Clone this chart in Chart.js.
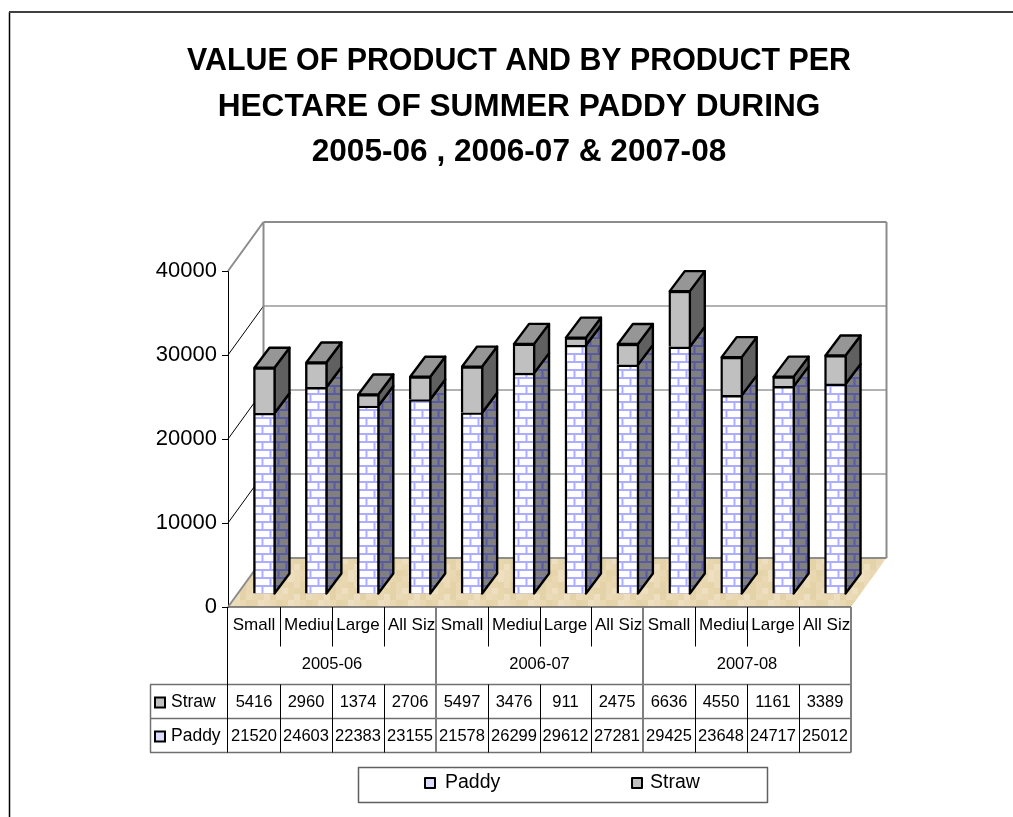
<!DOCTYPE html>
<html>
<head>
<meta charset="utf-8">
<style>
html, body { margin: 0; padding: 0; background: #fff; }
#wrap { position: relative; width: 1013px; height: 817px; }
</style>
<script src="https://cdn.jsdelivr.net/npm/chart.js@4"></script>
</head>
<body>
<div id="wrap"><canvas id="chart" width="1013" height="817"></canvas></div>
<script>
const sizes = ['Small', 'Medium', 'Large', 'All Sizes']
const years = ['2005-06', '2006-07', '2007-08']
const categories = [
    'Small', 'Medium', 'Large', 'All Sizes',
    'Small', 'Medium', 'Large', 'All Sizes',
    'Small', 'Medium', 'Large', 'All Sizes'
]
const paddy = [21520, 24603, 22383, 23155, 21578, 26299, 29612, 27281, 29425, 23648, 24717, 25012]
const straw = [5416, 2960, 1374, 2706, 5497, 3476, 911, 2475, 6636, 4550, 1161, 3389]
const yTicks = [0, 10000, 20000, 30000, 40000]

const titleLines = [
    'VALUE OF PRODUCT AND BY PRODUCT PER',
    'HECTARE OF SUMMER PADDY DURING',
    '2005-06 , 2006-07 & 2007-08'
]

// 3d look
const wallDepth = { x: 35.5, y: -49 }
const barShift = { x: 10.5, y: -13 }
const barDepth = { x: 15, y: -20 }

function brickPattern(bg, mortar) {
    let c = document.createElement('canvas')
    c.width = 16
    c.height = 16
    let g = c.getContext('2d')
    g.fillStyle = bg
    g.fillRect(0, 0, 16, 16)
    g.fillStyle = mortar
    g.fillRect(0, 6, 16, 2)
    g.fillRect(0, 14, 16, 2)
    g.fillRect(3, 0, 2, 6)
    g.fillRect(11, 8, 2, 6)
    return g.createPattern(c, 'repeat')
}

function floorPattern() {
    let shades = ['#e9d8b2', '#e6d4ab', '#ebdbb8', '#e4d2a8', '#e8d6ae', '#eddfbf']
    let order = [0, 3, 1, 5, 2, 4, 1, 0, 5, 2, 3, 0, 4, 1, 2, 3, 0, 5, 4, 1, 3, 2, 0, 4, 5]
    let c = document.createElement('canvas')
    c.width = 30
    c.height = 30
    let g = c.getContext('2d')
    order.forEach((s, i) => {
        g.fillStyle = shades[s]
        g.fillRect((i % 5) * 6, Math.floor(i / 5) * 6, 6, 6)
    })
    return g.createPattern(c, 'repeat')
}

const paddyFront = brickPattern('#ffffff', '#adadff')
const paddySide = brickPattern('#808080', '#5a5aa0')

function poly(ctx, pts, fill, stroke, width) {
    ctx.beginPath()
    pts.forEach((p, i) => i ? ctx.lineTo(p[0], p[1]) : ctx.moveTo(p[0], p[1]))
    ctx.closePath()
    if(fill) {
        ctx.fillStyle = fill
        ctx.fill()
    }
    if(stroke) {
        ctx.strokeStyle = stroke
        ctx.lineWidth = width
        ctx.lineJoin = 'round'
        ctx.stroke()
    }
}

function line(ctx, x1, y1, x2, y2, color, width) {
    ctx.beginPath()
    ctx.moveTo(x1, y1)
    ctx.lineTo(x2, y2)
    ctx.strokeStyle = color
    ctx.lineWidth = width
    ctx.stroke()
}

const walls = {
    id: 'walls',
    // tick labels stick out left of the axis box, widen it so they are not clipped
    afterLayout(chart) {
        chart.scales.y.left = 140
    },
    beforeDatasetsDraw(chart) {
        let ctx = chart.ctx
        let a = chart.chartArea
        let y = chart.scales.y
        let dx = wallDepth.x
        let dy = wallDepth.y
        ctx.save()
        poly(ctx, [[a.left, a.bottom], [a.left + dx, a.bottom + dy], [a.right + dx, a.bottom + dy], [a.right, a.bottom]], floorPattern(), null)
        yTicks.forEach(t => {
            let py = y.getPixelForValue(t)
            let top = t === yTicks[yTicks.length - 1]
            let zero = t === 0
            line(ctx, a.left, py, a.left + dx, py + dy, (top || zero) ? '#8c8c8c' : '#000000', (top || zero) ? 2 : 1)
            line(ctx, a.left + dx, py + dy, a.right + dx, py + dy, (top || zero) ? '#8c8c8c' : '#666666', (top || zero) ? 2 : 1.2)
        })
        line(ctx, a.left + dx, y.getPixelForValue(0) + dy, a.left + dx, y.getPixelForValue(40000) + dy, '#8c8c8c', 2)
        line(ctx, a.right + dx, y.getPixelForValue(0) + dy, a.right + dx, y.getPixelForValue(40000) + dy, '#8c8c8c', 2)
        line(ctx, a.left, a.bottom, a.right, a.bottom, '#606060', 1.5)
        ctx.restore()

        // side and top faces, then the library draws the fronts on top
        ctx.save()
        ctx.translate(barShift.x, barShift.y)
        let bx = barDepth.x
        let by = barDepth.y
        chart.getDatasetMeta(0).data.forEach((bar, i) => {
            let top = chart.getDatasetMeta(1).data[i]
            let r = bar.x + bar.width / 2 - 1
            let l = bar.x - bar.width / 2 + 1
            poly(ctx, [[r, bar.base], [r + bx, bar.base + by], [r + bx, bar.y + by], [r, bar.y]], paddySide, '#000000', 2.4)
            poly(ctx, [[r, bar.y], [r + bx, bar.y + by], [r + bx, top.y + by], [r, top.y]], '#606060', '#000000', 2.4)
            poly(ctx, [[l, top.y], [l + bx, top.y + by], [r + bx, top.y + by], [r, top.y]], '#969696', '#000000', 2.4)
        })
        ctx.restore()

        ctx.save()
        ctx.translate(barShift.x, barShift.y)
    },
    afterDatasetsDraw(chart) {
        chart.ctx.restore()
    }
}

const dataTable = {
    id: 'dataTable',
    afterDraw(chart) {
        let ctx = chart.ctx
        let a = chart.chartArea
        let x = chart.scales.x
        let step = x.getPixelForValue(1) - x.getPixelForValue(0)
        let edge = i => Math.round(a.left + i * step)
        let rowSep = 646.5
        let rows = [684.5, 718.5, 752.5]
        let headLeft = 150
        ctx.save()

        // frame of the chart object
        line(ctx, 9.5, 817, 9.5, 12, '#000000', 1.5)
        line(ctx, 9, 12, 1013, 12, '#404040', 2)

        // grid of the table
        rows.forEach(r => line(ctx, headLeft, r, a.right, r, '#707070', 1.5))
        line(ctx, headLeft + 0.5, rows[0], headLeft + 0.5, rows[2], '#707070', 1.5)
        for(let i = 0; i <= categories.length; i++) {
            let px = edge(i) + 0.5
            if(i === 0) {
                line(ctx, px - 1, a.bottom, px - 1, rows[2], '#000000', 1)
            } else if(i % sizes.length === 0) {
                line(ctx, px - 0.5, a.bottom, px - 0.5, rows[2], '#808080', 2)
            } else {
                line(ctx, px, a.bottom, px, rowSep, '#000000', 1)
                line(ctx, px, rows[0], px, rows[2], '#000000', 1)
            }
        }

        ctx.font = '17px "Liberation Sans", Arial, sans-serif'
        ctx.fillStyle = '#000000'
        ctx.textBaseline = 'middle'

        // category cells, long names get cut off by the cell
        categories.forEach((name, i) => {
            let l = edge(i)
            let r = edge(i + 1)
            ctx.save()
            ctx.beginPath()
            ctx.rect(l, a.bottom, r - l, 40)
            ctx.clip()
            let w = ctx.measureText(name).width
            ctx.textAlign = 'left'
            ctx.fillText(name, w > r - l - 6 ? l + 4 : (l + r - w) / 2, 625)
            ctx.restore()
        })

        ctx.textAlign = 'center'
        ctx.font = '16.5px "Liberation Sans", Arial, sans-serif'
        years.forEach((name, i) => {
            ctx.fillText(name, (edge(i * sizes.length) + edge((i + 1) * sizes.length)) / 2, 664)
        })

        // values and row heads
        let rowValues = [straw, paddy]
        rowValues.forEach((vals, r) => {
            let cy = (rows[r] + rows[r + 1]) / 2 + 1
            vals.forEach((v, i) => {
                ctx.fillText(String(v), (edge(i) + edge(i + 1)) / 2, cy)
            })
        })
        ctx.textAlign = 'left'
        ctx.font = '17.5px "Liberation Sans", Arial, sans-serif'
        let heads = [chart.data.datasets[1], chart.data.datasets[0]]
        heads.forEach((ds, r) => {
            let cy = (rows[r] + rows[r + 1]) / 2 + 1
            drawKey(ctx, 155, cy - 5, ds)
            ctx.fillStyle = '#000000'
            ctx.fillText(ds.label, 171, cy)
        })

        // legend
        poly(ctx, [[358.5, 767.5], [767.5, 767.5], [767.5, 802.5], [358.5, 802.5]], null, '#606060', 1.5)
        ctx.font = '19.5px "Liberation Sans", Arial, sans-serif'
        let legendAt = [[425, 445], [632, 650]]
        chart.data.datasets.forEach((ds, i) => {
            drawKey(ctx, legendAt[i][0], 778, ds)
            ctx.fillStyle = '#000000'
            ctx.fillText(ds.label, legendAt[i][1], 783)
        })
        ctx.restore()
    }
}

function drawKey(ctx, x, y, ds) {
    ctx.fillStyle = ds.keyColor
    ctx.fillRect(x, y, 10, 10)
    ctx.strokeStyle = '#000000'
    ctx.lineWidth = 2
    ctx.strokeRect(x, y, 10, 10)
}

new Chart(document.getElementById('chart'), {
    type: 'bar',
    data: {
        labels: categories,
        datasets: [
            { label: 'Paddy', data: paddy, backgroundColor: paddyFront, keyColor: '#dcdcff', borderColor: '#000000', borderWidth: 2.4, barThickness: 22 },
            { label: 'Straw', data: straw, backgroundColor: '#c0c0c0', keyColor: '#c0c0c0', borderColor: '#000000', borderWidth: 2.4, barThickness: 22 }
        ]
    },
    options: {
        responsive: false,
        animation: false,
        layout: { padding: { left: 187, right: 162, top: 0, bottom: 210 } },
        plugins: {
            legend: { display: false },
            tooltip: { enabled: false },
            title: {
                display: true,
                text: titleLines,
                color: '#000000',
                font: { family: '"Liberation Sans", Arial, sans-serif', size: 31.6, weight: 'bold', lineHeight: 1.44 },
                padding: { top: 39, bottom: 95.5 }
            }
        },
        scales: {
            x: {
                display: false,
                stacked: true,
                grid: { display: false }
            },
            y: {
                stacked: true,
                min: 0,
                max: 40000,
                afterFit(scale) { scale.width = 41 },
                afterBuildTicks(scale) { scale.ticks = yTicks.map(v => ({ value: v })) },
                border: { color: '#000000', width: 1 },
                grid: { drawOnChartArea: false, drawTicks: true, tickLength: 6, color: '#000000' },
                ticks: {
                    color: '#000000',
                    padding: 5,
                    font: { family: '"Liberation Sans", Arial, sans-serif', size: 22 },
                    callback: v => String(v)
                }
            }
        }
    },
    plugins: [walls, dataTable]
})
</script>
</body>
</html>
